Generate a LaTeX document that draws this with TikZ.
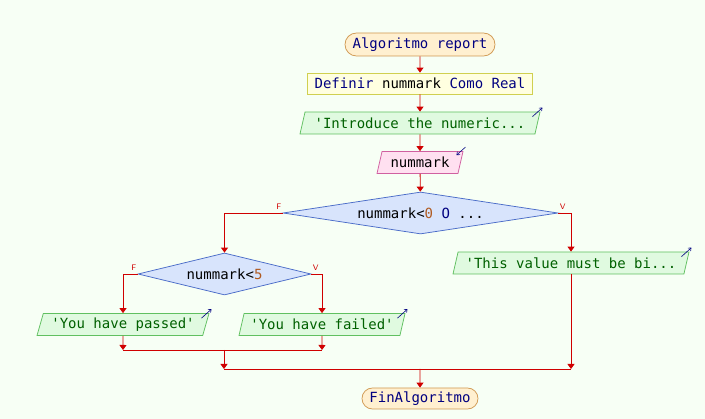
\documentclass[tikz,border=0pt]{standalone}
\usepackage{fontspec}
\setmonofont{DejaVu Sans Mono}
\usetikzlibrary{shapes.geometric,shapes.misc,arrows.meta}
\definecolor{bgcol}{RGB}{247,255,245}
\definecolor{linecol}{RGB}{208,0,0}
\definecolor{termfill}{RGB}{255,240,208}
\definecolor{termdraw}{RGB}{208,152,80}
\definecolor{deffill}{RGB}{255,255,224}
\definecolor{defdraw}{RGB}{208,208,80}
\definecolor{outfill}{RGB}{224,250,224}
\definecolor{outdraw}{RGB}{96,192,96}
\definecolor{infill}{RGB}{255,224,240}
\definecolor{indraw}{RGB}{208,96,160}
\definecolor{decfill}{RGB}{216,228,252}
\definecolor{decdraw}{RGB}{74,108,200}
\definecolor{kwcol}{RGB}{0,0,128}
\definecolor{strcol}{RGB}{0,96,0}
\definecolor{numcol}{RGB}{176,90,32}
\tikzset{
  every node/.style={font=\ttfamily\fontsize{14}{16}\selectfont, inner sep=0pt, line width=0.75pt},
  term/.style={rounded rectangle, draw=termdraw, fill=termfill, text=kwcol},
  defbox/.style={rectangle, draw=defdraw, fill=deffill},
  iobox/.style={trapezium, trapezium left angle=65, trapezium right angle=115,
    trapezium stretches body, minimum height=22pt},
  outbox/.style={iobox, draw=outdraw, fill=outfill, text=strcol},
  inbox/.style={iobox, draw=indraw, fill=infill},
  decbox/.style={diamond, draw=decdraw, fill=decfill, minimum height=42pt},
  flow/.style={draw=linecol, line width=0.8pt, -{Triangle[width=7pt,length=5pt]}},
  link/.style={draw=linecol, line width=0.8pt},
  lbl/.style={font=\sffamily\fontsize{8}{9}\selectfont, text=linecol, inner sep=1pt},
  ioarrow/.style={draw=kwcol, line width=0.6pt, -{Straight Barb[length=2.5pt,width=4pt]}}
}
\begin{document}
\begin{tikzpicture}[x=1pt,y=-1pt]
\fill[bgcol] (0,0) rectangle (705,419);
\useasboundingbox (0,0) rectangle (705,419);

\node[term, minimum width=150pt, minimum height=23pt] (start) at (420,44.5) {Algoritmo report};
\node[defbox, minimum width=225pt, minimum height=21pt] (def) at (420,83.5)
  {\textcolor{kwcol}{Definir} nummark \textcolor{kwcol}{Como Real}};
\node[outbox, minimum width=240pt] (intro) at (420,123) {'Introduce the numeric...};
\node[inbox, minimum width=86pt] (inp) at (420,162.5) {nummark};
\node[decbox, aspect=6.5, minimum width=275pt] (chk) at (420.5,213)
  {nummark<\textcolor{numcol}{0} \textcolor{kwcol}{O} ...};
\node[decbox, aspect=4.1, minimum width=173pt] (pass) at (224.5,274) {nummark<\textcolor{numcol}{5}};
\node[outbox, minimum width=236pt] (warn) at (571,263) {'This value must be bi...};
\node[outbox, minimum width=172pt] (passed) at (123,324.5) {'You have passed'};
\node[outbox, minimum width=166pt] (failed) at (322,324.5) {'You have failed'};
\node[term, minimum width=116pt, minimum height=21pt] (fin) at (420,398.5) {FinAlgoritmo};

\node[lbl, anchor=south east] (chkf) at ([yshift=2pt]chk.west) {F};
\node[lbl, anchor=south west] (chkv) at ([yshift=2pt]chk.east) {V};
\node[lbl, anchor=south east] (passf) at ([yshift=2pt]pass.west) {F};
\node[lbl, anchor=south west] (passv) at ([yshift=2pt]pass.east) {V};

\coordinate (jp) at (123,350);
\coordinate (jf) at (322,350);
\coordinate (j1) at (224,350);
\coordinate (j1b) at (224,369);
\coordinate (jw) at (571,369);
\coordinate (j2) at (420,369);

\draw[flow] (start) -- (def);
\draw[flow] (def) -- (intro);
\draw[flow] (intro) -- (inp);
\draw[flow] (inp) -- (chk);
\draw[flow] (chk.west) -| (pass.north);
\draw[flow] (chk.east) -| (warn.north);
\draw[flow] (pass.west) -| (passed.north);
\draw[flow] (pass.east) -| (failed.north);
\draw[flow] (passed) -- (jp);
\draw[flow] (failed) -- (jf);
\draw[link] (jp) -- (jf);
\draw[flow] (j1) -- (j1b);
\draw[flow] (warn) -- (jw);
\draw[link] (j1b) -- (jw);
\draw[flow] (j2) -- (fin);

\draw[ioarrow] (intro.top right corner) ++(-8,5) -- ++(10,-9);
\draw[ioarrow] (warn.top right corner) ++(-8,5) -- ++(10,-9);
\draw[ioarrow] (passed.top right corner) ++(-8,5) -- ++(10,-9);
\draw[ioarrow] (failed.top right corner) ++(-8,5) -- ++(10,-9);
\draw[ioarrow] (inp.top right corner) ++(2,-4) -- ++(-9,8);
\end{tikzpicture}
\end{document}
